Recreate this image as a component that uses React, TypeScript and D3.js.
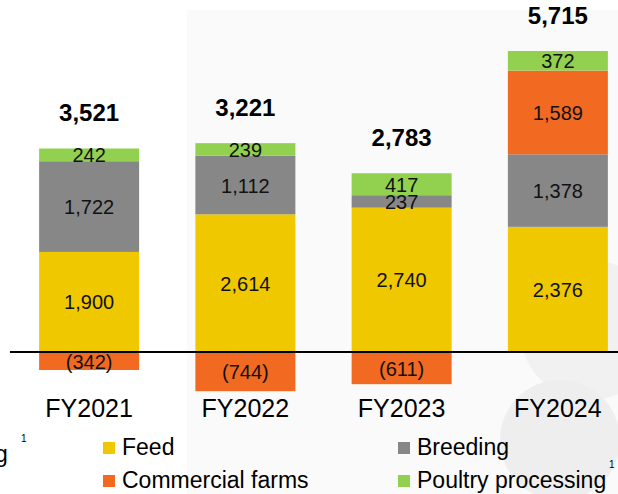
import React from "react";
import * as d3 from "d3";

const categories = ["FY2021", "FY2022", "FY2023", "FY2024"];
const seriesNames = ["Feed", "Breeding", "Commercial farms", "Poultry processing"];
const feed = [1900, 2614, 2740, 2376];
const breeding = [1722, 1112, 237, 1378];
const commercial = [-342, -744, -611, 1589];
const poultry = [242, 239, 417, 372];
const totals = [3521, 3221, 2783, 5715];
const colors = ["#EFC800", "#878787", "#F26922", "#92D050"];

const W = 618;
const H = 494;

export default function App() {
  const rows = categories.map((c, i) => ({
    cat: c,
    Feed: feed[i],
    Breeding: breeding[i],
    "Commercial farms": commercial[i],
    "Poultry processing": poultry[i],
  }));
  const stack = d3
    .stack<any>()
    .keys(seriesNames)
    .offset(d3.stackOffsetDiverging);
  const series = stack(rows);

  const x = d3
    .scaleBand()
    .domain(categories)
    .range([11, 636])
    .paddingInner(0.36)
    .paddingOuter(0.18);
  const y = d3.scaleLinear().domain([0, 5715]).range([352, 51]);
  const fmt = (v: number) => (v < 0 ? `(${d3.format(",")(-v)})` : d3.format(",")(v));
  const font = "'Liberation Sans', Arial, sans-serif";

  const legendItems = [
    { name: seriesNames[0], color: colors[0], lx: 103, ly: 448 },
    { name: seriesNames[1], color: colors[1], lx: 398, ly: 448 },
    { name: seriesNames[2], color: colors[2], lx: 103, ly: 481 },
    { name: seriesNames[3], color: colors[3], lx: 398, ly: 481 },
  ];

  return (
    <svg
      width={W}
      height={H}
      style={{ position: "absolute", left: 0, top: 0, background: "#fff" }}
      fontFamily={font}
    >
      <rect x={187} y={10} width={W - 187} height={H - 10} fill="#fafafa" />
      <circle cx={590} cy={330} r={70} fill="#f1f1f1" />
      <circle cx={560} cy={440} r={60} fill="#eeeeee" />
      {series.map((s, si) =>
        s.map((d, i) => {
          const bx = x(categories[i])!;
          const y0 = y(d[0]);
          const y1 = y(d[1]);
          const top = Math.min(y0, y1);
          const h = Math.abs(y1 - y0);
          return (
            <rect
              key={`${si}-${i}`}
              x={bx}
              y={top}
              width={x.bandwidth()}
              height={h}
              fill={colors[si]}
            />
          );
        })
      )}
      {series.map((s, si) =>
        s.map((d, i) => {
          const bx = x(categories[i])! + x.bandwidth() / 2;
          const cy = (y(d[0]) + y(d[1])) / 2;
          const v = rows[i][seriesNames[si] as keyof (typeof rows)[0]] as number;
          return (
            <text
              key={`l-${si}-${i}`}
              x={bx}
              y={cy + 7.5}
              textAnchor="middle"
              fontSize={20}
              fill="#111"
            >
              {fmt(v)}
            </text>
          );
        })
      )}
      {totals.map((t, i) => {
        const top = y(feed[i] + breeding[i] + Math.max(0, commercial[i]) + poultry[i]);
        return (
          <text
            key={`t-${i}`}
            x={x(categories[i])! + x.bandwidth() / 2}
            y={top - 27}
            textAnchor="middle"
            fontSize={24}
            fontWeight="bold"
            fill="#000"
          >
            {d3.format(",")(t)}
          </text>
        );
      })}
      <line x1={10} x2={W} y1={y(0)} y2={y(0)} stroke="#000" strokeWidth={2} />
      {categories.map((c) => (
        <text
          key={c}
          x={x(c)! + x.bandwidth() / 2}
          y={417}
          textAnchor="middle"
          fontSize={25}
          fill="#000"
        >
          {c}
        </text>
      ))}
      <text x={-5} y={462} fontSize={23} fill="#000">g</text>
      <text x={21} y={442} fontSize={10} fill="#000">1</text>
      {legendItems.map((it) => (
        <g key={it.name}>
          <rect x={it.lx} y={it.ly - 6} width={12} height={12} fill={it.color} />
          <text x={it.lx + 19} y={it.ly + 7} fontSize={23} fill="#000">
            {it.name}
          </text>
        </g>
      ))}
      <text x={609} y={468} fontSize={10} fill="#000">1</text>
    </svg>
  );
}
